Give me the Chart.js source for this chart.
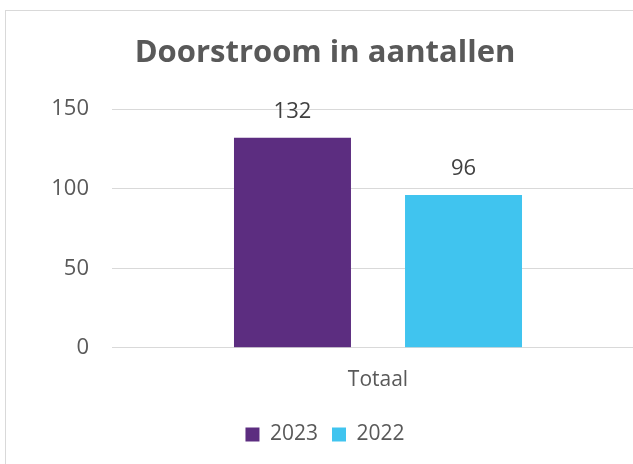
<!DOCTYPE html>
<html>
<head>
<meta charset="utf-8">
<script src="https://cdn.jsdelivr.net/npm/chart.js@4/dist/chart.umd.min.js"></script>
<style>
  html, body { margin: 0; padding: 0; background: #fff; overflow: hidden; width: 633px; height: 464px; }
  #frame { position: absolute; left: 5px; top: 10px; width: 648px; height: 470px; border: 1px solid #d9d9d9; background: #fff; }
  canvas { display: block; }
</style>
</head>
<body>
<div id="frame"><canvas id="c" width="648" height="470"></canvas></div>
<script>
// Chart content
const chartTitle = 'Doorstroom in aantallen';
const categories = ['Totaal'];
const seriesNames = ['2023', '2022'];
const values2023 = [132];
const values2022 = [96];
const yTicks = [0, 50, 100, 150];

const purple = '#5c2d80';
const cyan = '#40c4ef';
const textGrey = '#595959';
const gridGrey = '#d9d9d9';
const baseFont = '"Open Sans", "DejaVu Sans", sans-serif';

// Writes each bar's value above it
const valueLabels = {
  id: 'valueLabels',
  afterDatasetsDraw(chart) {
    const ctx = chart.ctx;
    ctx.save();
    ctx.font = '22px ' + baseFont;
    ctx.fillStyle = '#404040';
    ctx.textAlign = 'center';
    ctx.textBaseline = 'middle';
    chart.data.datasets.forEach((ds, i) => {
      const meta = chart.getDatasetMeta(i);
      meta.data.forEach((bar, j) => {
        ctx.fillText(String(ds.data[j]), bar.x, bar.y - 26);
      });
    });
    ctx.restore();
  }
};

new Chart(document.getElementById('c'), {
  type: 'bar',
  data: {
    labels: categories,
    datasets: [
      { label: seriesNames[0], data: values2023, backgroundColor: purple, borderWidth: 0 },
      { label: seriesNames[1], data: values2022, backgroundColor: cyan, borderWidth: 0 }
    ]
  },
  options: {
    responsive: false,
    animation: false,
    devicePixelRatio: 1,
    layout: { padding: { left: 0, right: 10, top: 0, bottom: 26 } },
    datasets: {
      bar: { barPercentage: 0.684, categoryPercentage: 0.643 }
    },
    plugins: {
      title: {
        display: true,
        text: chartTitle,
        color: textGrey,
        font: { family: baseFont, size: 31, weight: 'bold' },
        padding: { top: 24, bottom: 37 }
      },
      legend: {
        display: true,
        position: 'bottom',
        labels: {
          color: textGrey,
          font: { family: baseFont, size: 21 },
          boxWidth: 14,
          boxHeight: 14,
          padding: 14
        }
      },
      tooltip: { enabled: false }
    },
    scales: {
      x: {
        grid: { display: false, drawTicks: false },
        border: { display: true, color: gridGrey, width: 1 },
        ticks: { color: textGrey, font: { family: baseFont, size: 21 }, padding: 20 },
        afterFit(scale) { scale.height -= 3; }
      },
      y: {
        min: 0,
        max: 150,
        afterBuildTicks(scale) { scale.ticks = yTicks.map(v => ({ value: v })); },
        grid: { color: gridGrey, lineWidth: 1, drawTicks: false },
        border: { display: false },
        ticks: { color: textGrey, font: { family: baseFont, size: 22 }, padding: 23 },
        afterFit(scale) { scale.width = 106; }
      }
    }
  },
  plugins: [valueLabels]
});
</script>
</body>
</html>
